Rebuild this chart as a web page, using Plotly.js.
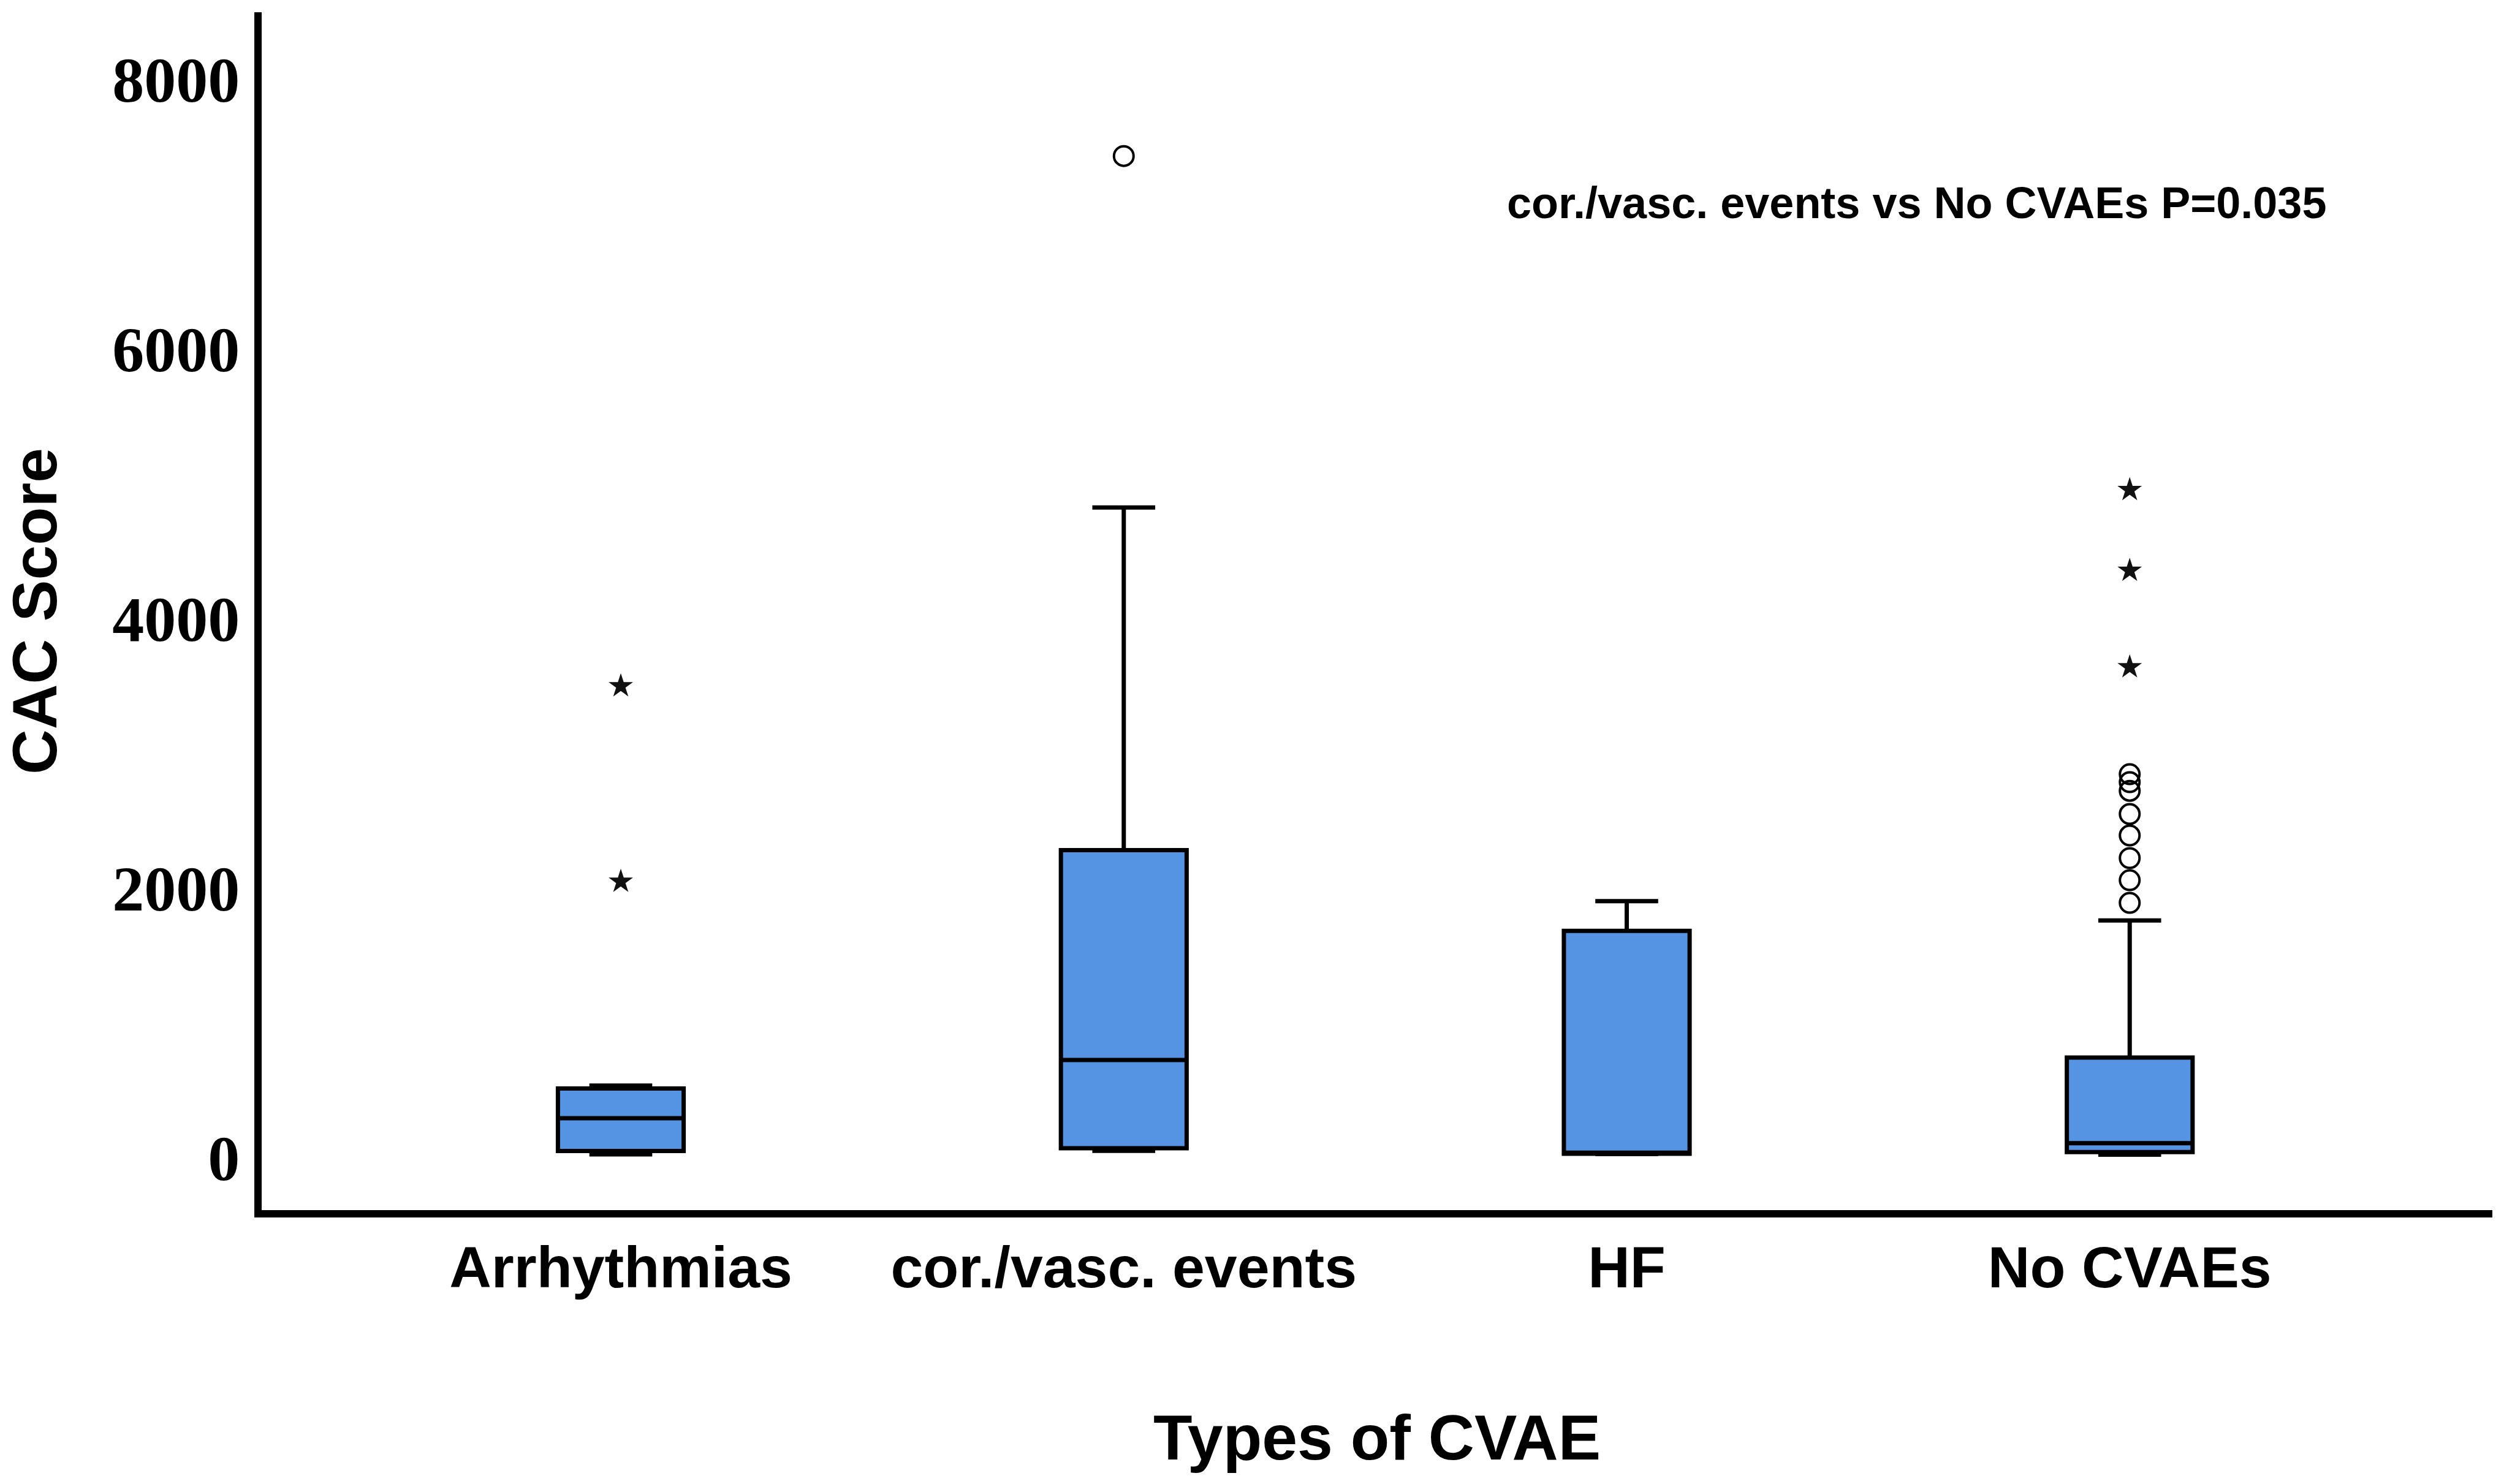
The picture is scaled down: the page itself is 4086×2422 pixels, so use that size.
<!DOCTYPE html>
<html>
<head>
<meta charset="utf-8">
<script src="https://cdn.plot.ly/plotly-3.0.1.min.js"></script>
<style>html,body{margin:0;padding:0;background:#fff;}#chart{width:4086px;height:2422px;}</style>
</head>
<body>
<div id="chart"></div>
<script>
// Categories
const categories = ['Arrhythmias', 'cor./vasc. events', 'HF', 'No CVAEs'];
// Box statistics (CAC score)
const lowerFence = [27, 54, 30, 25];
const q1 = [52, 73, 32, 45];
const medians = [296, 727, 40, 110];
const q3 = [516, 2283, 1685, 745];
const upperFence = [537, 4824, 1905, 1762];
// Outliers (circles)
const circleCats = ['cor./vasc. events', 'No CVAEs', 'No CVAEs', 'No CVAEs', 'No CVAEs', 'No CVAEs', 'No CVAEs', 'No CVAEs', 'No CVAEs'];
const circleVals = [7430, 2846, 2787, 2723, 2551, 2392, 2224, 2060, 1892];
// Extreme values (asterisks)
const starCats = ['Arrhythmias', 'Arrhythmias', 'No CVAEs', 'No CVAEs', 'No CVAEs'];
const starVals = [3500, 2050, 4955, 4356, 3640];
// Tick labels
const yTicks = [0, 2000, 4000, 6000, 8000];
const yTickText = ['0', '2000', '4000', '6000', '8000'];
const annotationText = 'cor./vasc. events vs No CVAEs P=0.035';

const sans = 'Liberation Sans, Arial, sans-serif';
const serif = 'Liberation Serif, Times New Roman, serif';

const traces = [
  {
    type: 'box',
    x: categories,
    q1: q1,
    median: medians,
    q3: q3,
    lowerfence: lowerFence,
    upperfence: upperFence,
    boxpoints: false,
    fillcolor: '#5594E2',
    line: {color: '#000000', width: 7},
    whiskerwidth: 0.5,
    showlegend: false,
    hoverinfo: 'skip'
  },
  {
    type: 'scatter',
    mode: 'markers',
    x: circleCats,
    y: circleVals,
    marker: {symbol: 'circle-open', size: 32, color: '#000000', line: {width: 4, color: '#000000'}},
    showlegend: false,
    hoverinfo: 'skip'
  },
  {
    type: 'scatter',
    mode: 'markers',
    x: starCats,
    y: starVals,
    marker: {symbol: 'star', size: 30, color: '#111111', line: {width: 0}},
    showlegend: false,
    hoverinfo: 'skip'
  }
];

const layout = {
  width: 4086,
  height: 2422,
  paper_bgcolor: '#ffffff',
  plot_bgcolor: '#ffffff',
  margin: {l: 427, r: 19, t: 20, b: 447},
  boxgap: 0.75,
  boxgroupgap: 0,
  xaxis: {
    type: 'category',
    categoryorder: 'array',
    categoryarray: categories,
    range: [-0.714, 3.721],
    showline: true,
    linecolor: '#000000',
    linewidth: 12,
    showgrid: false,
    zeroline: false,
    ticks: '',
    ticklabelstandoff: 0,
    tickfont: {family: sans, size: 95, color: '#000000', weight: 'bold'},
    title: {text: 'Types of CVAE', font: {family: sans, size: 104, color: '#000000', weight: 'bold'}, standoff: 194},
    automargin: false,
    fixedrange: true
  },
  yaxis: {
    range: [-386, 8496],
    tickvals: yTicks,
    ticktext: yTickText,
    showline: true,
    linecolor: '#000000',
    linewidth: 12,
    showgrid: false,
    zeroline: false,
    ticks: '',
    ticklabelstandoff: 3,
    tickfont: {family: serif, size: 104, color: '#000000', weight: 'bold'},
    title: {text: 'CAC Score', font: {family: sans, size: 102, color: '#000000', weight: 'bold'}, standoff: 107},
    automargin: false,
    fixedrange: true
  },
  annotations: [
    {
      xref: 'paper', yref: 'paper',
      x: 0.7418, y: 0.841,
      xanchor: 'center', yanchor: 'middle',
      text: annotationText,
      showarrow: false,
      font: {family: sans, size: 72, color: '#000000', weight: 'bold'}
    }
  ]
};

Plotly.newPlot('chart', traces, layout, {displayModeBar: false, staticPlot: true});
</script>
</body>
</html>
